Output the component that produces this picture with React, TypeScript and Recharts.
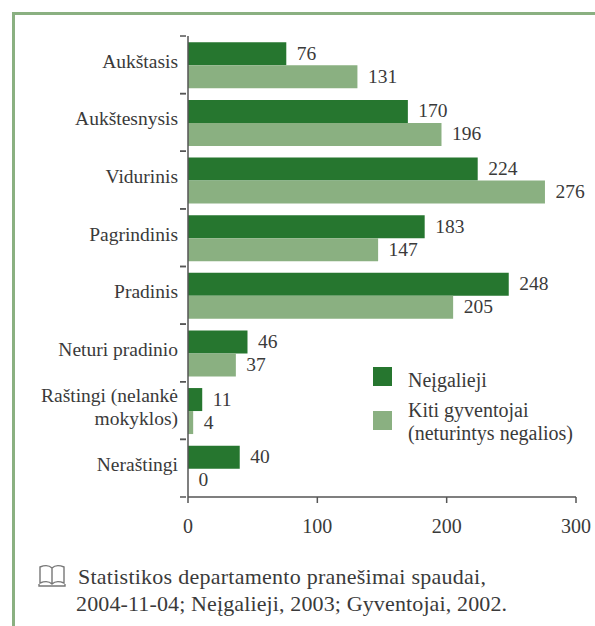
import { Bar, BarChart, LabelList, Legend, XAxis, YAxis } from "recharts";

const categories = [
  "Aukštasis",
  "Aukštesnysis",
  "Vidurinis",
  "Pagrindinis",
  "Pradinis",
  "Neturi pradinio",
  "Raštingi (nelankė|mokyklos)",
  "Neraštingi",
];
const disabled = [76, 170, 224, 183, 248, 46, 11, 40];
const others = [131, 196, 276, 147, 205, 37, 4, 0];
const xTicks = [0, 100, 200, 300];
const seriesNames = ["Neįgalieji", "Kiti gyventojai|(neturintys negalios)"];
const sourceLines = [
  "Statistikos departamento pranešimai spaudai,",
  "2004-11-04; Neįgalieji, 2003; Gyventojai, 2002.",
];

const data = categories.map((name, i) => ({
  name,
  disabled: disabled[i],
  others: others[i],
}));

const FONT = "'Liberation Serif', serif";
const TEXT = "#3a3a3a";
const AXIS = "#555";
const DARK = "#26762f";
const LIGHT = "#8ab081";
const BAND = 57.6;

function CategoryTick({ x, y, payload }: any) {
  const lines = String(payload.value).split("|");
  return (
    <g>
      <line x1={x + 2} x2={x + 8} y1={y - BAND / 2} y2={y - BAND / 2} stroke={AXIS} strokeWidth={1.5} />
      <line x1={x + 2} x2={x + 8} y1={y + BAND / 2} y2={y + BAND / 2} stroke={AXIS} strokeWidth={1.5} />
      {lines.map((line, i) => (
        <text key={line} x={x} y={y + 3 + (i - (lines.length - 1) / 2) * 23} textAnchor="end" fontFamily={FONT} fontSize={19.5} fill={TEXT}>
          {line}
        </text>
      ))}
    </g>
  );
}

function ChartLegend() {
  return (
    <div style={{ fontFamily: FONT, fontSize: 20, color: TEXT, lineHeight: "23px" }}>
      {seriesNames.map((name, i) => (
        <div key={name} style={{ position: "absolute", left: 0, top: i === 0 ? 0 : 30, width: 220 }}>
          <span style={{ position: "absolute", left: 0, top: i === 0 ? 0 : 14, width: 19, height: 19, background: i === 0 ? DARK : LIGHT }} />
          <div style={{ marginLeft: 35, paddingTop: 2 }}>
            {name.split("|").map((line) => (
              <div key={line}>{line}</div>
            ))}
          </div>
        </div>
      ))}
    </div>
  );
}

// drawn by hand so the zero value keeps its label
function ValueLabel({ x, y, width, height, value }: any) {
  return (
    <text x={x + width + 10.5} y={y + height / 2 + 6} fontFamily={FONT} fontSize={19.5} fill={TEXT}>
      {value}
    </text>
  );
}

export default function App() {
  return (
    <div style={{ position: "absolute", left: 0, top: 0, width: 595, height: 626, background: "#fff", overflow: "hidden" }}>
      <div style={{ position: "absolute", left: 12, top: 12, width: 600, height: 640, borderTop: "3px solid #8ab081", borderLeft: "3px solid #8ab081" }} />
      <BarChart
        width={595}
        height={626}
        data={data}
        layout="vertical"
        margin={{ top: 36, right: 19, bottom: 0, left: 0 }}
        barCategoryGap={6.3}
        barGap={0}
        style={{ position: "absolute", left: 0, top: 0 }}
      >
        <XAxis
          type="number"
          domain={[0, 300]}
          ticks={xTicks}
          height={129}
          stroke={AXIS}
          strokeWidth={1.5}
          tickSize={6}
          tickMargin={16}
          tick={{ fontFamily: FONT, fontSize: 20, fill: TEXT }}
        />
        <YAxis
          type="category"
          dataKey="name"
          width={188}
          interval={0}
          stroke={AXIS}
          strokeWidth={1.5}
          tickLine={false}
          tickSize={6}
          tickMargin={4}
          tick={<CategoryTick />}
        />
        <Legend
          layout="horizontal"
          verticalAlign="middle"
          content={<ChartLegend />}
          wrapperStyle={{ position: "absolute", left: 373, top: 367, width: 220, height: 80 }}
        />
        <Bar dataKey="disabled" fill={DARK} isAnimationActive={false}>
          <LabelList dataKey="disabled" content={<ValueLabel />} />
        </Bar>
        {/* tiny minPointSize: a zero-width bar loses its label otherwise */}
        <Bar dataKey="others" fill={LIGHT} minPointSize={0.01} isAnimationActive={false}>
          <LabelList dataKey="others" content={<ValueLabel />} />
        </Bar>
      </BarChart>
      <svg width={30} height={24} style={{ position: "absolute", left: 38, top: 564 }}>
        <path d="M2 3 C7 1 11 1 14 4 C17 1 21 1 26 3 V19 C21 17 17 17 14 20 C11 17 7 17 2 19 Z M14 4 V20 M1 20 V22 H27 V20" fill="none" stroke="#777" strokeWidth={1.4} />
      </svg>
      <div style={{ position: "absolute", left: 76, top: 563, fontFamily: FONT, fontSize: 22, lineHeight: "27px", color: TEXT, whiteSpace: "nowrap" }}>
        {sourceLines.map((line, i) => (
          <div key={line} style={{ marginLeft: i === 0 ? 2 : 0, letterSpacing: i === 0 ? 0.25 : 0.13 }}>
            {line}
          </div>
        ))}
      </div>
    </div>
  );
}
